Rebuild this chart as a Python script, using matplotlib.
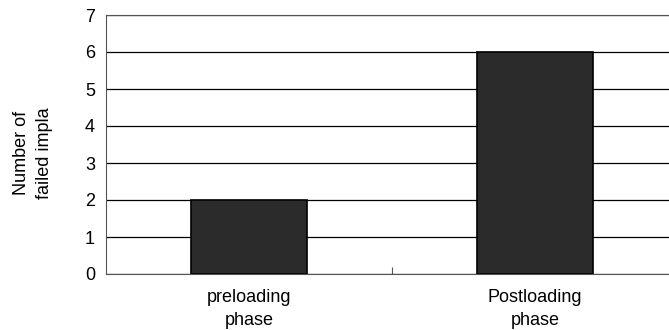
import matplotlib
matplotlib.use("Agg")
import matplotlib.pyplot as plt
import numpy as np

plt.rcParams['font.family'] = ['Liberation Sans', 'DejaVu Sans']

categories = ["preloading\nphase", "Postloading\nphase"]
values = [2, 6]
yticks = [0, 1, 2, 3, 4, 5, 6, 7]
ylabel = "Number of\nfailed impla"

fig = plt.figure(figsize=(6.69, 3.30), dpi=100)
ax = fig.add_axes([106/669, 1-274/330, 1-106/669, (274-15)/330])

x = np.arange(len(categories))
ax.bar(x, values, width=0.405, color="#2b2b2b", edgecolor="black", linewidth=1.2, zorder=3)

ax.set_ylim(0, 7)
ax.set_xlim(-0.5, 1.468)
ax.set_yticks(yticks)
ax.set_yticklabels([str(t) for t in yticks], fontsize=13)
ax.tick_params(axis='y', length=0, pad=8)
ax.yaxis.grid(True, color="black", linewidth=0.9, zorder=0)
ax.set_axisbelow(True)

ax.set_xticks(x)
ax.set_xticklabels(categories, fontsize=13, linespacing=1.45)
ax.tick_params(axis='x', length=0, pad=11)
ax.set_xticks([0.5], minor=True)
ax.tick_params(axis='x', which='minor', direction='in', length=5, width=0.8, color='#555555')

ax.spines['right'].set_visible(False)
ax.spines['left'].set_color('#555555')
ax.spines['top'].set_color('#555555')
ax.spines['bottom'].set_color('#555555')

fig.text(33/669, 1-153/330, ylabel, rotation=90, fontsize=13, ha='center', va='center',
         multialignment='center', linespacing=1.45)

fig.savefig("out.png", dpi=100)
